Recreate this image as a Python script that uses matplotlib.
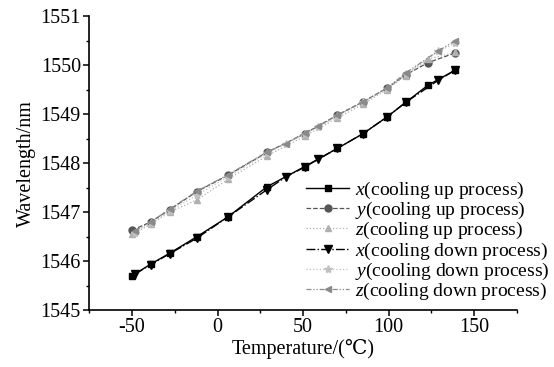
import matplotlib
matplotlib.use("Agg")
import matplotlib.pyplot as plt
from matplotlib.ticker import MultipleLocator

plt.rcParams["font.family"] = ["Liberation Serif", "DejaVu Serif"]
plt.rcParams["mathtext.fontset"] = "custom"
plt.rcParams["mathtext.it"] = "Liberation Serif:italic"
plt.rcParams["mathtext.rm"] = "Liberation Serif"
plt.rcParams["axes.unicode_minus"] = False

# temperatures (deg C)
T_up = [-50, -39, -28, -12, 6, 29, 51, 70, 85, 99, 110, 123, 139]
T_down = [-48, -39, -28, -12, 6, 29, 40, 51, 59, 70, 85, 99, 110, 129, 139]

# wavelengths (nm)
x_up = [1545.70, 1545.94, 1546.16, 1546.50, 1546.90, 1547.52, 1547.93,
        1548.30, 1548.60, 1548.94, 1549.24, 1549.59, 1549.90]
y_up = [1546.63, 1546.80, 1547.05, 1547.42, 1547.75, 1548.22, 1548.60,
        1548.98, 1549.25, 1549.53, 1549.80, 1550.05, 1550.25]
z_up = [1546.55, 1546.75, 1547.00, 1547.25, 1547.67, 1548.15, 1548.55,
        1548.92, 1549.20, 1549.50, 1549.78, 1550.12, 1550.26]
x_down = [1545.74, 1545.93, 1546.15, 1546.47, 1546.90, 1547.46, 1547.72,
          1547.92, 1548.08, 1548.30, 1548.60, 1548.94, 1549.24, 1549.69, 1549.90]
y_down = [1546.58, 1546.77, 1547.02, 1547.35, 1547.72, 1548.20, 1548.40,
          1548.60, 1548.74, 1548.96, 1549.24, 1549.52, 1549.82, 1550.28, 1550.45]
z_down = [1546.62, 1546.80, 1547.06, 1547.43, 1547.76, 1548.23, 1548.40,
          1548.62, 1548.75, 1548.98, 1549.25, 1549.53, 1549.84, 1550.29, 1550.50]

labels = [r"$x$(cooling up process)", r"$y$(cooling up process)",
          r"$z$(cooling up process)", r"$x$(cooling down process)",
          r"$y$(cooling down process)", r"$z$(cooling down process)"]

fig = plt.figure(figsize=(5.54, 3.67), dpi=100)
ax = fig.add_axes([0.161, 0.155, 0.772, 0.801])

ax.plot(T_up, x_up, color="black", lw=1.0, ls="-", marker="s", ms=5, label=labels[0])
ax.plot(T_up, y_up, color="#555555", lw=0.9, ls="--", marker="o", ms=5, label=labels[1])
ax.plot(T_up, z_up, color="#b0b0b0", lw=0.9, ls=":", marker="^", ms=5, label=labels[2])
ax.plot(T_down, x_down, color="black", lw=1.0, ls="-.", marker="v", ms=6, label=labels[3])
ax.plot(T_down, y_down, color="#c0c0c0", lw=0.9, ls=":", marker="*", ms=6, label=labels[4])
ax.plot(T_down, z_down, color="#8a8a8a", lw=0.9, ls=(0, (4, 1.5, 1, 1.5, 1, 1.5)),
        marker="<", ms=5, label=labels[5])

ax.set_xlim(-75, 175)
ax.set_ylim(1545, 1551)
ax.xaxis.set_major_locator(MultipleLocator(50))
ax.xaxis.set_minor_locator(MultipleLocator(25))
ax.yaxis.set_major_locator(MultipleLocator(1))
ax.yaxis.set_minor_locator(MultipleLocator(0.5))
ax.spines["top"].set_visible(False)
ax.spines["right"].set_visible(False)
for s in ("left", "bottom"):
    ax.spines[s].set_linewidth(1.2)
ax.tick_params(which="major", direction="out", length=4, width=1.1, labelsize=14.5, pad=2)
ax.tick_params(which="minor", direction="out", length=2.5, width=1.0)

ax.set_xlabel("Temperature/(\u2103)", fontsize=14.5, labelpad=1)
ax.set_ylabel("Wavelength/nm", fontsize=14.5, labelpad=3)

fig.legend(loc="upper right", bbox_to_anchor=(0.992, 0.511), frameon=False,
           fontsize=14, labelspacing=-0.04, handlelength=2.2, handletextpad=0.3,
           borderpad=0, borderaxespad=0)

fig.savefig("out.png", dpi=100)
